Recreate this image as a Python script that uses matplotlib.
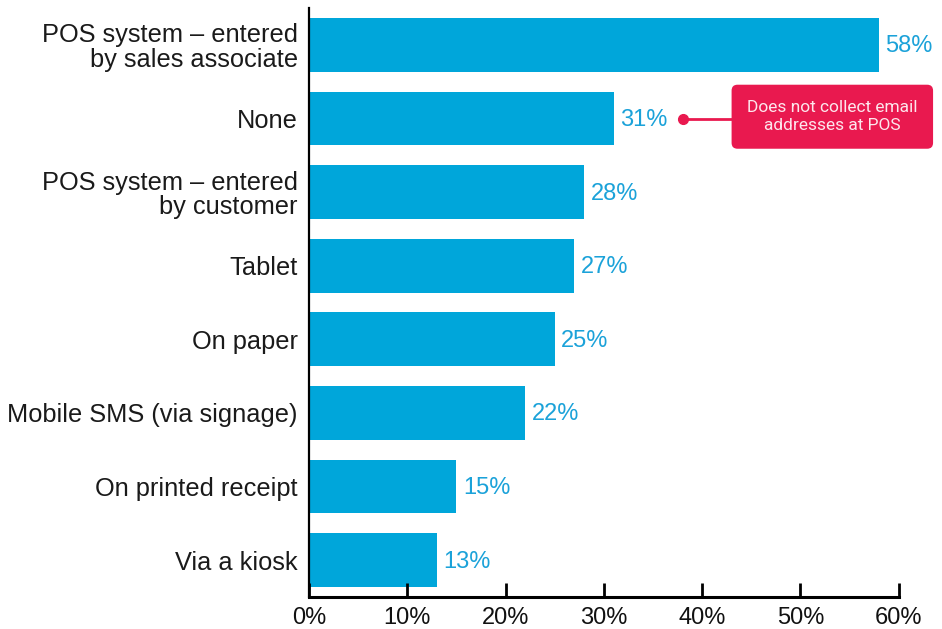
import matplotlib.pyplot as plt
from matplotlib.patches import FancyBboxPatch

categories = ['POS system \u2013 entered\nby sales associate', 'None',
              'POS system \u2013 entered\nby customer', 'Tablet', 'On paper',
              'Mobile SMS (via signage)', 'On printed receipt', 'Via a kiosk']
values = [58, 31, 28, 27, 25, 22, 15, 13]
xticks = [0, 10, 20, 30, 40, 50, 60]
note = 'Does not collect email\naddresses at POS'

bar_col = '#00a6da'
lab_col = '#1ba2d9'
note_col = '#e9194f'

plt.rcParams['font.family'] = ['Liberation Sans', 'DejaVu Sans']

fig = plt.figure(figsize=(9.42, 6.29), dpi=100)
ax = fig.add_axes([0.328, 0.051, 0.626, 0.936])

ypos = list(range(len(categories)))
ax.barh(ypos, values, height=0.73, color=bar_col)
for y, v in zip(ypos, values):
    ax.text(v + 0.65, y + 0.02, '%d%%' % v, ha='left', va='center', color=lab_col,
            fontsize=17)

ax.set_ylim(7.5, -0.5)
ax.set_xlim(0, 60)
ax.set_yticks(ypos)
ax.set_yticklabels(categories, fontsize=18.3, color='#1a1a1a', linespacing=1.02)
ax.set_xticks(xticks)
ax.set_xticklabels(['%d%%' % t for t in xticks], fontsize=17, color='#111111')

for s in ['top', 'right']:
    ax.spines[s].set_visible(False)
ax.spines['left'].set_linewidth(1.6)
ax.spines['bottom'].set_linewidth(2.2)
ax.tick_params(axis='y', length=0, pad=8)
ax.tick_params(axis='x', direction='in', length=10, width=2, pad=7.5)

# callout for the "None" bar
box = FancyBboxPatch((43.0, 0.54), 20.5, 0.87,
                     boxstyle='round,pad=0,rounding_size=0.6',
                     mutation_aspect=0.134, fc=note_col, ec='none', clip_on=False)
ax.add_patch(box)
ax.text(53.25, 0.975, note, ha='center', va='center', color='#fde6ec',
        fontsize=12.5, linespacing=1.25, clip_on=False,
        family=['Roboto', 'Liberation Sans'])
ax.plot([38.1, 43.0], [1, 1], color=note_col, lw=2, clip_on=False)
ax.plot(38.1, 1, 'o', color=note_col, ms=7, clip_on=False)

fig.savefig('out.png', dpi=100)
